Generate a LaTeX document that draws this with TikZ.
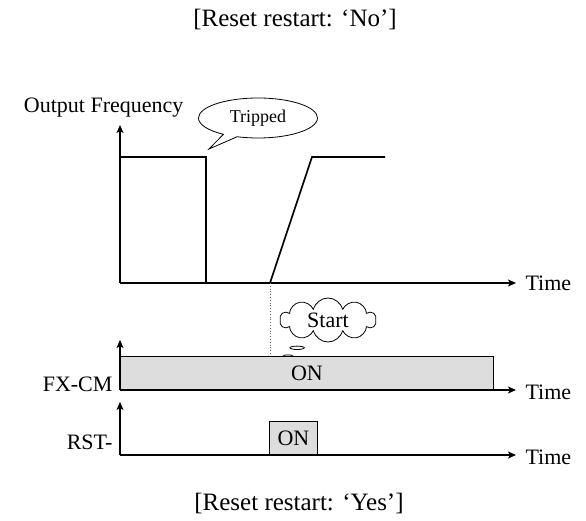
\documentclass[tikz,border=0pt]{standalone}
\usepackage{fontspec}
\setmainfont{Liberation Serif}
\usetikzlibrary{positioning,arrows.meta,shapes.callouts,shapes.symbols}

\tikzset{
  axis/.style={line width=1.6pt, -{Stealth[length=8pt,width=7pt,inset=2pt]}},
  signal/.style={line width=1.6pt, line join=miter},
  onbox/.style={draw, line width=0.9pt, fill=gray!27},
  lbl/.style={font=\fontsize{22}{24}\selectfont},
}

\begin{document}
\begin{tikzpicture}[x=1pt,y=-1pt]
\useasboundingbox (0,0) rectangle (586,521);
% titles
\node[font=\fontsize{25}{27}\selectfont] (titleno) at (295,20) {[Reset restart: ‘No’]};
\node[font=\fontsize{25}{27}\selectfont] (titleyes) at (299,503) {[Reset restart: ‘Yes’]};
% output frequency axes
\coordinate (f0) at (120,283);
\draw[axis] (f0) -- (120,125);
\draw[axis] (f0) -- (516,283);
\node[lbl, anchor=east] (freq) at (187,108) {Output Frequency};
\node[lbl, anchor=west] (time1) at (522,283) {Time};
% frequency before trip, then restart ramp
\draw[signal] (f0) -- (120,157) -- (206,157) -- (206,283);
\draw[signal] (270,283) -- (312,157) -- (385,157);
\node[ellipse callout, draw, thick, minimum width=119pt, minimum height=40pt, inner sep=0pt,
  font=\fontsize{18}{20}\selectfont, callout absolute pointer={(209,149)}] (trip) at (258,118) {Tripped};
% restart marker
\draw[gray!80!black, dotted, thick] (270,283) -- (270,357);
\node[cloud callout, draw, thick, cloud puffs=10, aspect=2.2, minimum width=96pt, minimum height=44pt,
  inner sep=0pt, lbl, callout absolute pointer={(288,356)}] (start) at (328,320) {Start};
% FX-CM signal
\coordinate (fx0) at (120,390);
\node[onbox, minimum width=373pt, minimum height=33pt, inner sep=0pt, anchor=south west, lbl]
  (fxon) at (fx0) {ON};
\draw[axis] (fx0) -- (120,340);
\draw[axis] (fx0) -- (516,390);
\node[lbl, anchor=east] (fxcm) at (116,384) {FX-CM};
\node[lbl, anchor=west] (time2) at (522,392) {Time};
% RST signal
\coordinate (rst0) at (120,455);
\node[onbox, minimum width=48pt, minimum height=33pt, inner sep=0pt, anchor=south west, lbl]
  (rston) at (269,455) {ON};
\draw[axis] (rst0) -- (120,402);
\draw[axis] (rst0) -- (516,455);
\node[lbl, anchor=east] (rst) at (116,442) {RST-};
\node[lbl, anchor=west] (time3) at (522,457) {Time};
\end{tikzpicture}
\end{document}
